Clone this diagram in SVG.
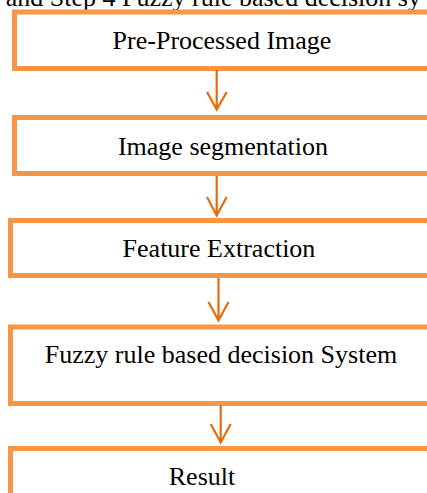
<svg xmlns="http://www.w3.org/2000/svg" width="427" height="493" viewBox="0 0 427 493">
<style>
.box{fill:#ffffff;stroke:#F79646;stroke-width:5}
.lbl{font-family:"Liberation Serif","Times New Roman",serif;font-size:26px;fill:#000000;text-anchor:middle}
.con{stroke:#E46C0A;stroke-width:2.2;fill:none}
</style>
<rect width="427" height="493" fill="#ffffff"/>
<text x="-8" y="6" font-family="Liberation Serif,Times New Roman,serif" font-size="26" fill="#000">t and Step 4 Fuzzy rule based decision sy</text>
<g id="node1"><rect class="box" x="14.5" y="12" width="430" height="56.5"/><text class="lbl" x="222" y="49">Pre-Processed Image</text></g>
<g id="node2"><rect class="box" x="14.5" y="117.5" width="430" height="56"/><text class="lbl" x="223" y="155">Image segmentation</text></g>
<g id="node3"><rect class="box" x="10.5" y="220.5" width="430" height="55"/><text class="lbl" x="219" y="257">Feature Extraction</text></g>
<g id="node4"><rect class="box" x="10.5" y="327" width="430" height="76.5"/><text class="lbl" x="221" y="363">Fuzzy rule based decision System</text></g>
<g id="node5"><rect class="box" x="10.5" y="448.5" width="430" height="60"/><text class="lbl" x="202" y="485">Result</text></g>
<g id="connectors">
<path class="con" d="M216.7 70V109M207 92L216.7 109.5L226.7 92"/>
<path class="con" d="M216.7 176V215M207 197L216.7 215.5L226.7 197"/>
<path class="con" d="M218.5 278V320M208.5 302L218.5 320.5L228.5 302"/>
<path class="con" d="M220.7 405V442M210.7 424L220.7 442.5L230.7 424"/>
</g>
</svg>
